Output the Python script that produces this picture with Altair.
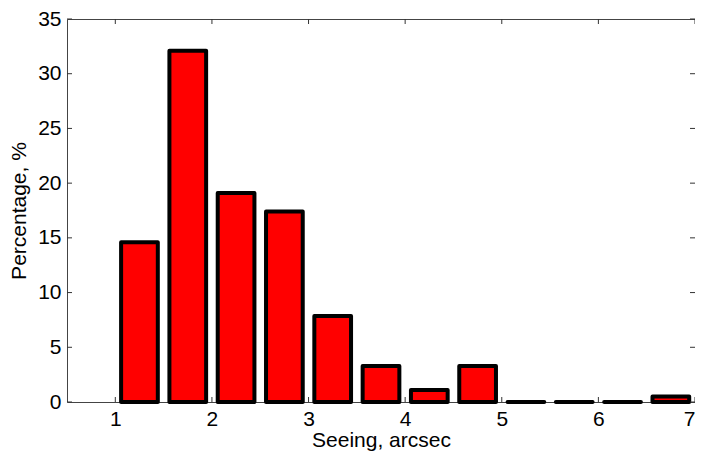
import altair as alt
import pandas as pd

centers = [1.25, 1.75, 2.25, 2.75, 3.25, 3.75, 4.25, 4.75, 5.25, 5.75, 6.25, 6.75]
percent = [14.6, 32.1, 19.1, 17.4, 7.85, 3.3, 1.1, 3.3, 0.0, 0.0, 0.0, 0.5]
half_width = 0.19
x_ticks = [1, 2, 3, 4, 5, 6, 7]
y_ticks = [0, 5, 10, 15, 20, 25, 30, 35]

W, H = 628, 383
FONT = "Liberation Sans"

bars_df = pd.DataFrame({
    "lo": [c - half_width for c in centers],
    "hi": [c + half_width for c in centers],
    "pct": percent,
})
xt_df = pd.DataFrame({"t": x_ticks})
yt_df = pd.DataFrame({"t": y_ticks})

xscale = alt.Scale(domain=[0.5, 7], nice=False, zero=False)
yscale = alt.Scale(domain=[0, 35], nice=False)

bars = alt.Chart(bars_df).mark_bar(
    fill="#ff0000", stroke="black", strokeWidth=4, strokeJoin="round"
).encode(
    x=alt.X("lo:Q", scale=xscale,
            axis=alt.Axis(values=x_ticks, title="Seeing, arcsec", tickSize=0,
                          labelPadding=6, titlePadding=0, domain=False, grid=False,
                          format="d")),
    x2="hi:Q",
    y=alt.Y("pct:Q", scale=yscale,
            axis=alt.Axis(values=y_ticks, title="Percentage, %", tickSize=0,
                          labelPadding=6, titlePadding=8, domain=False, grid=False)),
    y2=alt.datum(0),
)

tick_style = dict(color="#333333", strokeWidth=1)
bottom_ticks = alt.Chart(xt_df).mark_rule(**tick_style).encode(
    x=alt.X("t:Q", scale=xscale), y=alt.value(H), y2=alt.value(H - 5))
top_ticks = alt.Chart(xt_df).mark_rule(**tick_style).encode(
    x=alt.X("t:Q", scale=xscale), y=alt.value(0), y2=alt.value(5))
left_ticks = alt.Chart(yt_df).mark_rule(**tick_style).encode(
    y=alt.Y("t:Q", scale=yscale), x=alt.value(0), x2=alt.value(5))
right_ticks = alt.Chart(yt_df).mark_rule(**tick_style).encode(
    y=alt.Y("t:Q", scale=yscale), x=alt.value(W), x2=alt.value(W - 5))

chart = alt.layer(bars, bottom_ticks, top_ticks, left_ticks, right_ticks).properties(
    width=W, height=H,
    autosize=alt.AutoSizeParams(type="none"),
    padding={"left": 59, "top": 11, "right": 0, "bottom": 49},
    background="white",
).configure_view(
    stroke="#444444", strokeWidth=1
).configure_axis(
    labelFont=FONT, titleFont=FONT, labelFontSize=21, titleFontSize=21,
    labelColor="black", titleColor="black", titleFontWeight="normal",
)

chart.save("out.html", embed_options={"renderer": "svg", "actions": False})
